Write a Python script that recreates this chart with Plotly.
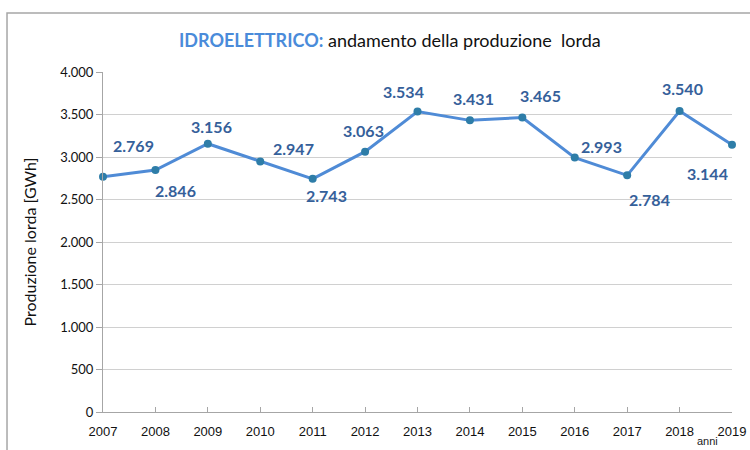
import plotly.graph_objects as go

years = [2007, 2008, 2009, 2010, 2011, 2012, 2013, 2014, 2015, 2016, 2017, 2018, 2019]
production = [2769, 2846, 3156, 2947, 2743, 3063, 3534, 3431, 3465, 2993, 2784, 3540, 3144]
# label offsets in pixels (x, y) relative to each point
label_dx = [30, 20, 4, 33, 14, -2, -14, 4, 18, 27, 22, 3, -25]
label_dy = [31, -20, 17, 13, -17, 21, 20, 22, 22, 11, -24, 23, -29]
y_ticks = [0, 500, 1000, 1500, 2000, 2500, 3000, 3500, 4000]

def fmt(v):
    return f"{v:,}".replace(",", ".")

fig = go.Figure()
fig.add_trace(go.Scatter(
    x=years, y=production, mode="lines+markers",
    line=dict(color="#4F8BD6", width=3),
    marker=dict(color="#2E7DA8", size=8),
    cliponaxis=False, showlegend=False, hoverinfo="x+y",
))

for x, y, dx, dy in zip(years, production, label_dx, label_dy):
    fig.add_annotation(x=x, y=y, text=f"<b>{fmt(y)}</b>", showarrow=False,
                       xshift=dx, yshift=dy,
                       font=dict(family="Lato, Open Sans, sans-serif", size=16, color="#35609A"))

fig.add_annotation(xref="paper", yref="paper", x=0.954, y=0, yshift=-37,
                   text="anni", showarrow=False, xanchor="left", xshift=-8,
                   font=dict(family="Liberation Sans Narrow, Liberation Sans, sans-serif", size=11, color="#222222"))

fig.add_annotation(xref="paper", yref="paper", x=0.456, y=1.0, yshift=32,
                   text="<span style='color:#4A8BDA'><b>IDROELETTRICO:</b></span> andamento della produzione  lorda",
                   showarrow=False, font=dict(family="Lato, Open Sans, sans-serif", size=18, color="#111111"),
                   xanchor="center", yanchor="middle")

fig.add_shape(type="rect", xref="paper", yref="paper", x0=-0.1526, x1=1.2, y0=-0.3, y1=1.1735,
              line=dict(color="#A6A6A6", width=1.5), fillcolor="rgba(0,0,0,0)", layer="below")

fig.update_layout(
    width=750, height=450, autosize=False,
    margin=dict(l=103, r=18, t=72, b=38),
    paper_bgcolor="white", plot_bgcolor="white",
    separators=",.",
    font=dict(family="Lato, Open Sans, sans-serif", color="#222222"),
    xaxis=dict(range=[2007, 2019], tickvals=years, ticktext=[str(y) for y in years],
               automargin=False,
               showgrid=False, showline=True, linecolor="#A6A6A6", linewidth=1,
               ticks="inside", ticklen=5, tickcolor="#A6A6A6", zeroline=False,
               ticklabelstandoff=7,
               tickfont=dict(family="Liberation Sans Narrow, Liberation Sans, sans-serif", size=13, color="#111111")),
    yaxis=dict(range=[0, 4000], tickvals=y_ticks, tickformat=",",
               automargin=False,
               showgrid=True, gridcolor="#D0D0D0", gridwidth=1,
               showline=True, linecolor="#A6A6A6", linewidth=1,
               ticks="outside", ticklen=6, tickcolor="#A6A6A6", zeroline=False,
               tickfont=dict(family="Lato, Open Sans, sans-serif", size=13, color="#111111"),
               title=dict(text="Produzione lorda [GWh]", standoff=19,
                          font=dict(family="Lato, Open Sans, sans-serif", size=16, color="#111111"))),
)

fig.write_html("out.html", config={"displayModeBar": False},
               post_script="document.body.style.margin='0';document.body.style.overflow='hidden';")
